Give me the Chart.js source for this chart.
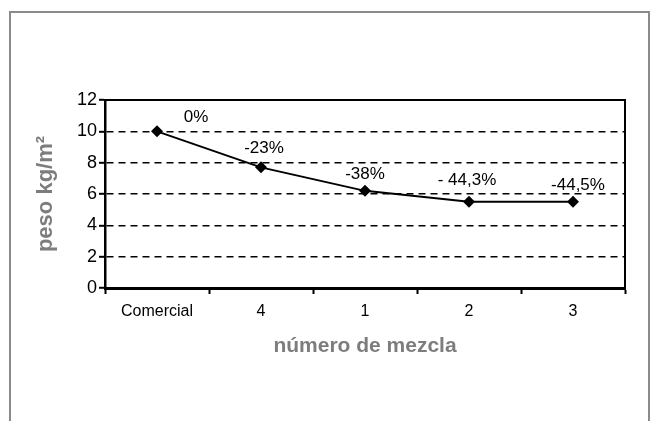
<!DOCTYPE html>
<html lang="es">
<head>
<meta charset="utf-8">
<title>peso kg/m² por número de mezcla</title>
<script src="https://cdn.jsdelivr.net/npm/chart.js@4.4.1/dist/chart.umd.min.js"></script>
<style>
  html, body { margin: 0; padding: 0; background: #ffffff; }
  #wrap { position: relative; width: 655px; height: 421px; overflow: hidden; }
  #frame {
    position: absolute; left: 9px; top: 11px; width: 637px; height: 420px;
    border: 2px solid #8a8a8a; border-bottom: none;
  }
  #pesoChart { position: absolute; left: 0; top: 0; }
</style>
</head>
<body>
<div id="wrap">
  <div id="frame"></div>
  <canvas id="pesoChart" width="655" height="421"></canvas>
</div>
<script>
// Data
const mezclas = ['Comercial', '4', '1', '2', '3'];
const pesoValues = [10, 7.7, 6.2, 5.5, 5.5];
const reduccionLabels = ['0%', '-23%', '-38%', '- 44,3%', '-44,5%'];
const yMin = 0;
const yMax = 12;
const yStep = 2;

// Where each percentage sits relative to its point (pixels)
const labelOffsets = [[39, -14], [3, -19], [0, -17], [-2, -22], [5, -17]];

const GREY = '#7d7d7d';
const FONT = '"Liberation Sans", Arial, sans-serif';

/**
 * Draws the top and right edges of the plot box
 */
const plotFrame = {
  id: 'plotFrame',
  afterDraw(chart) {
    const { ctx, chartArea } = chart;
    ctx.save();
    ctx.strokeStyle = '#000000';
    ctx.lineWidth = 2;
    ctx.beginPath();
    ctx.moveTo(chartArea.left, chartArea.top);
    ctx.lineTo(chartArea.right, chartArea.top);
    ctx.lineTo(chartArea.right, chartArea.bottom);
    ctx.stroke();
    ctx.restore();
  },
};

/**
 * Writes the reduction percentage above each point
 */
const pointLabels = {
  id: 'pointLabels',
  afterDatasetsDraw(chart) {
    const { ctx } = chart;
    const meta = chart.getDatasetMeta(0);
    ctx.save();
    ctx.font = '17px ' + FONT;
    ctx.fillStyle = '#000000';
    ctx.textAlign = 'center';
    ctx.textBaseline = 'middle';
    meta.data.forEach((pt, i) => {
      const [dx, dy] = labelOffsets[i];
      ctx.fillText(reduccionLabels[i], pt.x + dx, pt.y + dy);
    });
    ctx.restore();
  },
};

const ctx = document.getElementById('pesoChart').getContext('2d');

new Chart(ctx, {
  type: 'line',
  data: {
    labels: mezclas,
    datasets: [
      {
        data: pesoValues,
        borderColor: '#000000',
        borderWidth: 2,
        backgroundColor: '#000000',
        pointStyle: 'rectRot',
        pointRadius: 6,
        pointBorderWidth: 0,
        tension: 0,
        fill: false,
      },
    ],
  },
  options: {
    responsive: false,
    animation: false,
    layout: {
      padding: { top: 100, right: 30, left: 28, bottom: 58 },
    },
    plugins: {
      legend: { display: false },
      tooltip: { enabled: false },
    },
    scales: {
      x: {
        type: 'category',
        offset: true,
        afterFit: (scale) => { scale.height = 75; },
        grid: {
          offset: true,
          drawOnChartArea: false,
          drawTicks: true,
          tickLength: 6,
          tickColor: '#000000',
          tickWidth: 2,
        },
        border: { display: true, color: '#000000', width: 3 },
        ticks: {
          color: '#000000',
          padding: 8,
          font: { family: FONT, size: 16 },
        },
        title: {
          display: true,
          text: 'número de mezcla',
          color: GREY,
          padding: { top: 4, bottom: 4 },
          font: { family: FONT, size: 21, weight: 'bold' },
        },
      },
      y: {
        min: yMin,
        max: yMax,
        afterFit: (scale) => { scale.width = 77; },
        grid: {
          color: (c) => (c.tick && (c.tick.value === yMin || c.tick.value === yMax) ? 'rgba(0,0,0,0)' : '#000000'),
          lineWidth: 1.6,
          drawTicks: true,
          tickLength: 6,
          tickColor: '#000000',
          tickWidth: 2,
        },
        border: { display: true, color: '#000000', width: 2.5, dash: [7, 5] },
        ticks: {
          stepSize: yStep,
          color: '#000000',
          padding: 2,
          font: { family: FONT, size: 18 },
        },
        title: {
          display: true,
          text: 'peso kg/m²',
          color: GREY,
          padding: { top: 5, bottom: 4 },
          font: { family: FONT, size: 22, weight: 'bold' },
        },
      },
    },
  },
  plugins: [plotFrame, pointLabels],
});
</script>
</body>
</html>
